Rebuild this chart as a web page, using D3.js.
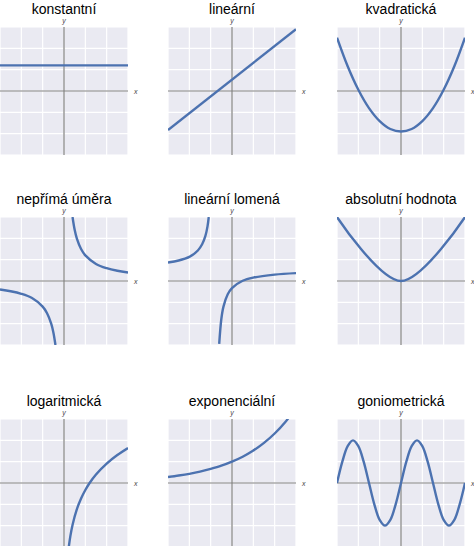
<!DOCTYPE html>
<html><head><meta charset="utf-8">
<script src="https://cdn.jsdelivr.net/npm/d3@7"></script>
<style>body{margin:0;background:#fff}</style>
</head><body>
<svg id="chart" width="474" height="546"></svg>
<script>
// panel titles, row by row
const titles = ["konstantní", "lineární", "kvadratická",
  "nepřímá úměra", "lineární lomená", "absolutní hodnota",
  "logaritmická", "exponenciální", "goniometrická"];

// curves, each a list of branches of [x, y] points
const konstantni = [[[-3, 1.2], [3, 1.2]]];
const linearni = [[[-3, -1.83], [3, 2.9]]];
const kvadraticka = [[[-3, 2.5], [-2.5, 1.16], [-2, 0.06], [-1.5, -0.8], [-1, -1.41], [-0.5, -1.78], [0, -1.9],
  [0.5, -1.78], [1, -1.41], [1.5, -0.8], [2, 0.06], [2.5, 1.16], [3, 2.5]]];
const neprima = [
  [[0.4, 3], [0.5, 2.4], [0.6, 2], [0.8, 1.5], [1, 1.2], [1.5, 0.8], [2, 0.6], [2.5, 0.48], [3, 0.4]],
  [[-0.4, -3], [-0.5, -2.4], [-0.6, -2], [-0.8, -1.5], [-1, -1.2], [-1.5, -0.8], [-2, -0.6], [-2.5, -0.48], [-3, -0.4]]];
const lomena = [
  [[-3, 0.87], [-2.5, 0.96], [-2, 1.13], [-1.6, 1.43], [-1.4, 1.72], [-1.25, 2.1], [-1.15, 2.55], [-1.09, 3]],
  [[-0.6, -2.95], [-0.5, -1.78], [-0.4, -1.2], [-0.2, -0.62], [0, -0.33], [0.5, 0.01], [1, 0.16], [2, 0.3], [3, 0.37]]];
const absolutni = [[[-3, 3], [0, 0], [3, 3]]];
const logaritmicka = [[[0.22, -3.03], [0.3, -2.48], [0.4, -1.97], [0.6, -1.24], [0.8, -0.73], [1, -0.33], [1.2, 0],
  [1.5, 0.4], [2, 0.91], [2.5, 1.31], [3, 1.64]]];
const exponencialni = [[[-3, 0.28], [-2.5, 0.35], [-2, 0.43], [-1.5, 0.53], [-1, 0.66], [-0.5, 0.81], [0, 1],
  [0.5, 1.23], [1, 1.52], [1.5, 1.88], [2, 2.32], [2.5, 2.86], [3, 3.53]]];
const goniometricka = [[[-3, 0], [-2.75, 1], [-2.5, 1.73], [-2.25, 2], [-2, 1.73], [-1.75, 1], [-1.5, 0], [-1.25, -1],
  [-1, -1.73], [-0.75, -2], [-0.5, -1.73], [-0.25, -1], [0, 0], [0.25, 1], [0.5, 1.73], [0.75, 2], [1, 1.73],
  [1.25, 1], [1.5, 0], [1.75, -1], [2, -1.73], [2.25, -2], [2.5, -1.73], [2.75, -1], [3, 0]]];
const curves = [konstantni, linearni, kvadraticka, neprima, lomena, absolutni, logaritmicka, exponencialni, goniometricka];
const gridTicks = [-3, -2, -1, 0, 1, 2, 3];

const svg = d3.select("#chart");
const colX = [0, 168, 337], rowY = [27, 217, 419], size = 128;

curves.forEach((branches, i) => {
  const left = colX[i % 3], top = rowY[Math.floor(i / 3)];
  const x = d3.scaleLinear().domain([-3, 3]).range([0, size]);
  const y = d3.scaleLinear().domain([-3, 3]).range([size, 0]);
  const g = svg.append("g").attr("transform", `translate(${left},${top})`);

  g.append("clipPath").attr("id", "clip" + i)
    .append("rect").attr("width", size).attr("height", size);

  g.append("text").attr("x", size / 2).attr("y", -13).attr("text-anchor", "middle")
    .attr("font-family", "Liberation Sans, Arial").attr("font-size", 14).text(titles[i]);

  g.append("rect").attr("width", size).attr("height", size).attr("fill", "#eaeaf2");
  g.selectAll(".gx").data(gridTicks).join("line")
    .attr("x1", d => x(d)).attr("x2", d => x(d)).attr("y1", 0).attr("y2", size)
    .attr("stroke", "#fff").attr("stroke-width", 1.2);
  g.selectAll(".gy").data(gridTicks).join("line").attr("class", "gy")
    .attr("y1", d => y(d)).attr("y2", d => y(d)).attr("x1", 0).attr("x2", size)
    .attr("stroke", "#fff").attr("stroke-width", 1.2);

  g.append("line").attr("x1", 0).attr("x2", size).attr("y1", y(0)).attr("y2", y(0))
    .attr("stroke", "#808080").attr("stroke-width", 1.2);
  g.append("line").attr("x1", x(0)).attr("x2", x(0)).attr("y1", 0).attr("y2", size)
    .attr("stroke", "#808080").attr("stroke-width", 1.2);

  g.append("text").attr("x", size + 6).attr("y", y(0) + 3).attr("font-style", "italic")
    .attr("font-family", "Liberation Sans, Arial").attr("font-size", 7).attr("fill", "#444").text("x");
  g.append("text").attr("x", x(0)).attr("y", -4).attr("text-anchor", "middle").attr("font-style", "italic")
    .attr("font-family", "Liberation Sans, Arial").attr("font-size", 7).attr("fill", "#444").text("y");

  const line = d3.line().x(d => x(d[0])).y(d => y(d[1])).curve(d3.curveCatmullRom);
  g.append("g").attr("clip-path", `url(#clip${i})`)
    .selectAll("path").data(branches).join("path")
    .attr("d", line).attr("fill", "none").attr("stroke", "#4c72b0").attr("stroke-width", 2.4);
});
</script>
</body></html>
